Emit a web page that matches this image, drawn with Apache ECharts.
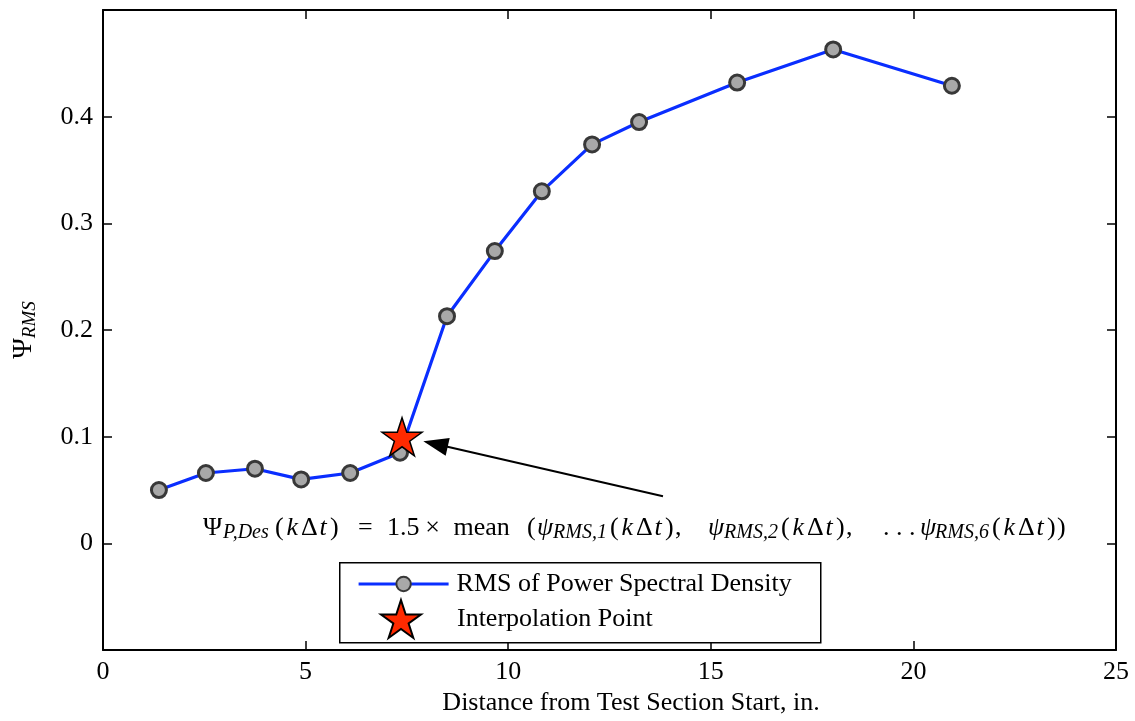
<!DOCTYPE html>
<html>
<head>
<meta charset="utf-8">
<script src="https://cdn.jsdelivr.net/npm/echarts@6/dist/echarts.min.js"></script>
<style>
html,body{margin:0;padding:0;background:#fff;}
#chart{width:1135px;height:721px;}
</style>
</head>
<body>
<div id="chart"></div>
<script>
// ---- data ----
const distance = [1.38, 2.54, 3.75, 4.89, 6.10, 7.33, 8.49, 9.67, 10.83, 12.07, 13.23, 15.65, 18.02, 20.95];
const psiRms   = [0.050, 0.066, 0.070, 0.060, 0.066, 0.085, 0.213, 0.274, 0.330, 0.374, 0.395, 0.432, 0.463, 0.429];
const interpX = [7.38];
const interpY = [0.100];
const arrowFrom = [13.82, 0.0442];
const arrowTo = [8.206, 0.0931];
const xTicks = [0, 5, 10, 15, 20, 25];
const yTicks = [-0.1, 0, 0.1, 0.2, 0.3, 0.4, 0.5];
const seriesNames = ['RMS of Power Spectral Density', 'Interpolation Point'];
const xName = 'Distance from Test Section Start, in.';

const FONT = '"Liberation Serif", "Times New Roman", serif';
const starPath = 'path://M50,0 L61.23,34.55 L97.55,34.55 L68.17,55.9 L79.39,90.45 L50,69.1 L20.61,90.45 L31.83,55.9 L2.45,34.55 L38.77,34.55 Z';
const arrowHead = 'path://M9,0 L18,25 L0,25 Z';

// formula pieces: [text, kind, box width]
// kinds: m upright, i italic, s subscript italic
const kdt = [['(', 'm', 11.5], ['k', 'i', 14.5], ['Δ', 'm', 18.5], ['t', 'i', 10.5], [')', 'm', 10]];
const formulaParts = [].concat(
  [['Ψ', 'm', 20], ['P,Des', 's', 52]], kdt.slice(0, 4), [[')', 'm', 28]],
  [['=', 'm', 29], ['1.5', 'm', 33], ['\u2009×', 'm', 27], [' mean', 'm', 80], ['(', 'm', 10]],
  [['ψ', 'i', 16], ['RMS,1', 's', 57]], kdt, [[',', 'm', 33]],
  [['ψ', 'i', 16], ['RMS,2', 's', 57]], kdt, [[',', 'm', 37]],
  [['. . .', 'm', 37]],
  [['ψ', 'i', 15], ['RMS,6', 's', 57]], kdt, [[')', 'm', 10]]
);

const chart = echarts.init(document.getElementById('chart'), null, {renderer: 'canvas'});

const kindStyle = {
  m: {fontFamily: FONT, fontSize: 26, color: '#000', lineHeight: 30, verticalAlign: 'middle'},
  i: {fontFamily: FONT, fontSize: 26, fontStyle: 'italic', color: '#000', lineHeight: 30, verticalAlign: 'middle'},
  s: {fontFamily: FONT, fontSize: 20, fontStyle: 'italic', color: '#000', lineHeight: 17, verticalAlign: 'bottom'}
};
const formulaRich = {};
let formulaText = '';
formulaParts.forEach((p, k) => {
  const key = 't' + k;
  formulaRich[key] = Object.assign({}, kindStyle[p[1]], {width: p[2], align: 'left'});
  formulaText += '{' + key + '|' + p[0] + '}';
});

const axisCommon = {
  axisLine: {show: true, onZero: false, lineStyle: {color: '#000', width: 2}},
  axisTick: {show: true, inside: true, length: 9, lineStyle: {color: '#000', width: 1.5}},
  splitLine: {show: false}
};
const labelFont = {fontFamily: FONT, fontSize: 26, color: '#000'};

const option = {
  animation: false,
  backgroundColor: '#fff',
  grid: {left: 103, right: 19, top: 10, bottom: 68, containLabel: false},
  xAxis: [
    Object.assign({}, axisCommon, {
      type: 'value', position: 'bottom', min: xTicks[0], max: xTicks[xTicks.length - 1], interval: 5,
      name: xName, nameLocation: 'middle', nameGap: 37,
      nameTextStyle: Object.assign({}, labelFont, {padding: [0, 0, 0, 43]}),
      axisLabel: Object.assign({}, labelFont, {margin: 9})
    }),
    Object.assign({}, axisCommon, {
      type: 'value', position: 'top', min: xTicks[0], max: xTicks[xTicks.length - 1], interval: 5,
      axisLabel: {show: false}
    })
  ],
  yAxis: [
    Object.assign({}, axisCommon, {
      type: 'value', position: 'left', min: yTicks[0], max: yTicks[yTicks.length - 1], interval: 0.1,
      name: '{a|Ψ}{s|RMS}', nameLocation: 'middle', nameGap: 64,
      nameTextStyle: {
        rich: {
          a: {fontFamily: FONT, fontSize: 28, color: '#000', lineHeight: 30, verticalAlign: 'middle'},
          s: {fontFamily: FONT, fontSize: 19, fontStyle: 'italic', color: '#000', lineHeight: 17, verticalAlign: 'bottom'}
        }
      },
      axisLabel: Object.assign({}, labelFont, {margin: 10, showMinLabel: false, showMaxLabel: false,
        formatter: v => String(Math.round(v * 10) / 10)})
    }),
    Object.assign({}, axisCommon, {
      type: 'value', position: 'right', min: yTicks[0], max: yTicks[yTicks.length - 1], interval: 0.1,
      axisLabel: {show: false}
    })
  ],
  legend: [
    {
      data: [seriesNames[0]], left: 357, top: 571, orient: 'vertical', padding: 0,
      itemWidth: 90, itemHeight: 18, z: 10,
      lineStyle: {width: 3.2},
      textStyle: Object.assign({}, labelFont, {padding: [0, 0, 0, 3]}),
      selectedMode: false
    },
    {
      data: [seriesNames[1]], left: 380, top: 599, orient: 'vertical', padding: 0,
      itemWidth: 90, itemHeight: 38, z: 10,
      textStyle: Object.assign({}, labelFont, {padding: [0, 0, 0, 6]}),
      selectedMode: false
    }
  ],
  graphic: [
    {
      type: 'rect', z: 5, left: 339, top: 562,
      shape: {width: 481, height: 80},
      style: {fill: '#fff', stroke: '#000', lineWidth: 1.5}
    },
    {
      type: 'text', z: 6, left: 203, top: 515,
      style: {text: formulaText, rich: formulaRich}
    }
  ],
  series: [
    {
      name: seriesNames[0],
      type: 'line',
      data: distance.map((x, i) => [x, psiRms[i]]),
      symbol: 'circle',
      symbolSize: 15,
      lineStyle: {color: '#0a2eff', width: 3.2},
      itemStyle: {color: '#a8a8a8', borderColor: '#383838', borderWidth: 3},
      emphasis: {disabled: true},
      z: 2
    },
    {
      name: seriesNames[1],
      type: 'scatter',
      data: interpX.map((x, i) => [x, interpY[i]]),
      symbol: starPath,
      symbolKeepAspect: true,
      symbolSize: 40,
      itemStyle: {color: '#ff2a00', borderColor: '#000', borderWidth: 1.5, opacity: 1},
      emphasis: {disabled: true},
      z: 4,
      markLine: {
        silent: true,
        symbol: ['none', arrowHead],
        symbolSize: 25,
        symbolKeepAspect: true,
        label: {show: false},
        lineStyle: {color: '#000', width: 2, type: 'solid'},
        emphasis: {disabled: true},
        data: [[{coord: arrowFrom}, {coord: arrowTo}]]
      }
    }
  ]
};

chart.setOption(option);
</script>
</body>
</html>
